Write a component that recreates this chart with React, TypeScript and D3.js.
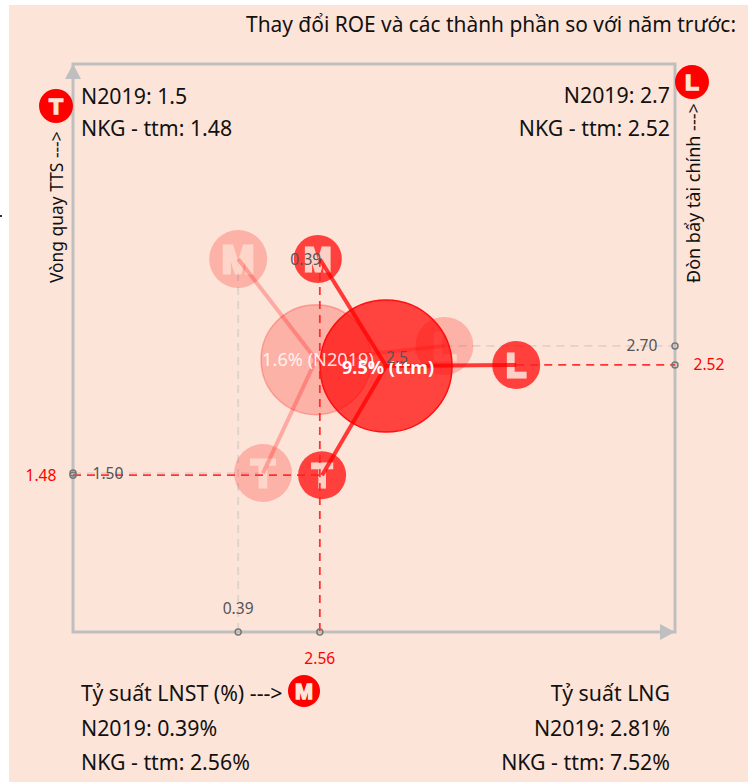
import React from "react";
import * as d3 from "d3";

const FONT = "'Noto Sans', sans-serif";
const BG = "#FDE4D8";
const AXIS = "#BFBFBF";

const marginValue = { prior: 0.39, current: 2.56 };
const turnoverValue = { prior: 1.5, current: 1.48 };
const leverageValue = { prior: 2.7, current: 2.52 };
const roeValue = { prior: 1.6, current: 9.5 };

// marker placements in scale units
const markerM = { priorY: 3.52, currentY: 3.52 };
const markerT = { priorX: 1.05, currentX: 2.62 };
const markerL = { priorX: 5.87, currentX: 7.78 };
const centerPrior = { x: 2.46, y: 2.57 };
const centerCurrent = { x: 4.32, y: 2.51 };

const title = "Thay đổi ROE và các thành phần so với năm trước:";

const x = d3.scaleLinear().domain([-4, 12]).range([73, 675]);
const y = d3.scaleLinear().domain([0, 5.36]).range([632, 64]);
const rBig = d3.scaleLinear().domain([1.6, 9.5]).range([55, 66]);

const line = d3.line<[number, number]>();

function Marker({ cx, cy, r, ch, faded }: { cx: number; cy: number; r: number; ch: string; faded?: boolean }) {
  return (
    <g>
      <circle cx={cx} cy={cy} r={r} fill="#FF0000" opacity={faded ? 0.22 : 0.72} />
      <text x={cx} y={cy} dy="0.36em" textAnchor="middle" fontFamily="'Liberation Sans', sans-serif" fontWeight={700}
        fontSize={r * 1.35} fill={BG} stroke={BG} strokeWidth={3} opacity={faded ? 0.7 : 0.88} filter="url(#soft)">{ch}</text>
    </g>
  );
}

function Badge({ cx, cy, r, ch }: { cx: number; cy: number; r: number; ch: string }) {
  return (
    <g>
      <circle cx={cx} cy={cy} r={r} fill="#FF0000" />
      <text x={cx} y={cy} dy="0.36em" textAnchor="middle" fontFamily="'Liberation Sans', sans-serif" fontWeight={700}
        fontSize={r * 1.35} fill={BG} stroke={BG} strokeWidth={1.5}>{ch}</text>
    </g>
  );
}

function Label({ tx, ty, s, anchor = "start" }: { tx: number; ty: number; s: string; anchor?: string }) {
  return <text x={tx} y={ty} fontFamily={FONT} fontSize={21.3} fill="#111" textAnchor={anchor}>{s}</text>;
}

function Small({ tx, ty, s, red }: { tx: number; ty: number; s: string; red?: boolean }) {
  return <text x={tx} y={ty} dy="0.35em" textAnchor="middle" fontFamily={FONT} fontSize={15.6}
    fill={red ? "#FF0000" : "#555"}>{s}</text>;
}

function Guide({ p, red }: { p: [number, number][]; red?: boolean }) {
  return <path d={line(p) ?? ""} fill="none" stroke={red ? "#FF2020" : "#BFBFBF"} strokeOpacity={red ? 0.9 : 0.5}
    strokeWidth={1.8} strokeDasharray="8 6" />;
}

function End({ cx, cy }: { cx: number; cy: number }) {
  return <circle cx={cx} cy={cy} r={3} fill="none" stroke="#777" strokeWidth={1.5} />;
}

export default function App() {
  const xL = x.range()[0], xR = x.range()[1], yB = y.range()[0], yT = y.range()[1];
  const pM: [number, number] = [x(marginValue.prior), y(markerM.priorY)];
  const cM: [number, number] = [x(marginValue.current), y(markerM.currentY)];
  const pT: [number, number] = [x(markerT.priorX), y(turnoverValue.prior)];
  const cT: [number, number] = [x(markerT.currentX), y(turnoverValue.current)];
  const pL: [number, number] = [x(markerL.priorX), y(leverageValue.prior)];
  const cL: [number, number] = [x(markerL.currentX), y(leverageValue.current)];
  const pC: [number, number] = [x(centerPrior.x), y(centerPrior.y)];
  const cC: [number, number] = [x(centerCurrent.x), y(centerCurrent.y)];
  return (
    <svg width={748} height={782} style={{ position: "absolute", left: 0, top: 0 }}>
      <defs>
        <filter id="soft" x="-20%" y="-20%" width="140%" height="140%"><feGaussianBlur stdDeviation="0.7" /></filter>
      </defs>
      <rect x={9} y={5} width={739} height={777} fill={BG} />
      <rect x={0} y={215} width={2} height={2} fill="#333" />

      <text x={736} y={32} textAnchor="end" fontFamily={FONT} fontSize={20.9} fill="#111">{title}</text>

      {/* frame */}
      <path d={`M${xL},${yB}V${yT}H${xR}V${yB}Z`} fill="none" stroke={AXIS} strokeWidth={3} />
      <path d={`M${xL},${yT}l-8,15h16Z`} fill={AXIS} />
      <path d={`M${xR},${yB}l-15,-8v16Z`} fill={AXIS} />

      {/* guides prior */}
      <Guide p={[pM, [pM[0], yB]]} />
      <Guide p={[pL, [xR, pL[1]]]} />
      <Guide p={[[xL, pT[1]], pT]} />

      {/* prior marks */}
      <Marker cx={pM[0]} cy={pM[1]} r={29} ch="M" faded />
      <Marker cx={pT[0]} cy={pT[1]} r={29} ch="T" faded />
      <Marker cx={pL[0]} cy={pL[1]} r={29} ch="L" faded />
      <path d={line([pM, pC]) ?? ""} stroke="#FF0000" strokeOpacity={0.25} strokeWidth={4} fill="none" />
      <path d={line([pT, pC]) ?? ""} stroke="#FF0000" strokeOpacity={0.25} strokeWidth={4} fill="none" />
      <path d={line([pL, pC]) ?? ""} stroke="#FF0000" strokeOpacity={0.25} strokeWidth={4} fill="none" />
      <circle cx={pC[0]} cy={pC[1]} r={rBig(roeValue.prior)} fill="#FF0000" fillOpacity={0.22} stroke="#FF0000" strokeOpacity={0.25} strokeWidth={1.5} />

      {/* current marks */}
      <Marker cx={cM[0] - 2} cy={cM[1]} r={24} ch="M" />
      <Marker cx={cT[0]} cy={cT[1]} r={24} ch="T" />
      <Marker cx={cL[0]} cy={cL[1]} r={24} ch="L" />
      <circle cx={cC[0]} cy={cC[1]} r={rBig(roeValue.current)} fill="#FF0000" fillOpacity={0.7} stroke="#FF1010" strokeWidth={1.5} />
      <Guide p={[cM, [cM[0], yB]]} red />
      <Guide p={[cL, [xR, cL[1]]]} red />
      <Guide p={[[xL, cT[1]], cT]} red />
      <path d={line([cM, cC]) ?? ""} stroke="#FF0000" strokeOpacity={0.75} strokeWidth={4} fill="none" />
      <path d={line([cT, cC]) ?? ""} stroke="#FF0000" strokeOpacity={0.75} strokeWidth={4} fill="none" />
      <path d={line([cL, cC]) ?? ""} stroke="#FF0000" strokeOpacity={0.75} strokeWidth={4} fill="none" />
      <text x={pC[0] + 2} y={pC[1]} dy="0.35em" textAnchor="middle" fontFamily={FONT} fontSize={18.2} fill="#fff" fillOpacity={0.85}>{`${roeValue.prior}% (N2019)`}</text>
      <text x={cC[0] + 2} y={cC[1] + 2} dy="0.35em" textAnchor="middle" fontFamily={FONT} fontSize={18} fontWeight={700} fill="#fff">{`${roeValue.current}% (ttm)`}</text>
      <Small tx={cC[0] + 11} ty={cC[1] - 8} s="2.5" />
      <Small tx={cM[0] - 14} ty={cM[1] + 1} s={marginValue.prior.toFixed(2)} />

      {/* axis ends */}
      <End cx={x(marginValue.prior)} cy={yB} />
      <End cx={x(marginValue.current)} cy={yB} />
      <End cx={xL} cy={y(turnoverValue.prior)} />
      <End cx={xL} cy={y(turnoverValue.current)} />
      <End cx={xR} cy={y(leverageValue.prior)} />
      <End cx={xR} cy={y(leverageValue.current)} />

      <Small tx={x(marginValue.prior)} ty={yB - 23} s={marginValue.prior.toFixed(2)} />
      <Small tx={x(marginValue.current)} ty={yB + 27} s={marginValue.current.toFixed(2)} red />
      <Small tx={xL + 35} ty={y(turnoverValue.prior)} s={turnoverValue.prior.toFixed(2)} />
      <Small tx={xL - 32} ty={y(turnoverValue.current)} s={turnoverValue.current.toFixed(2)} red />
      <Small tx={xR - 33} ty={y(leverageValue.prior)} s={leverageValue.prior.toFixed(2)} />
      <Small tx={xR + 34} ty={y(leverageValue.current)} s={leverageValue.current.toFixed(2)} red />

      {/* corner text */}
      <Label tx={81} ty={104} s={`N2019: ${turnoverValue.prior}`} />
      <Label tx={81} ty={136} s={`NKG - ttm: ${turnoverValue.current}`} />
      <Label tx={670} ty={103} s={`N2019: ${leverageValue.prior}`} anchor="end" />
      <Label tx={670} ty={136} s={`NKG - ttm: ${leverageValue.current}`} anchor="end" />
      <Label tx={81} ty={701} s="Tỷ suất LNST (%) --->" />
      <Label tx={81} ty={736} s={`N2019: ${marginValue.prior}%`} />
      <Label tx={81} ty={770} s={`NKG - ttm: ${marginValue.current}%`} />
      <Label tx={670} ty={701} s="Tỷ suất LNG" anchor="end" />
      <Label tx={670} ty={736} s="N2019: 2.81%" anchor="end" />
      <Label tx={670} ty={770} s="NKG - ttm: 7.52%" anchor="end" />

      <text transform="translate(63,283) rotate(-90)" fontFamily={FONT} fontSize={17.4} fill="#111">Vòng quay TTS ---&gt;</text>
      <text transform="translate(700,283) rotate(-90)" fontFamily={FONT} fontSize={18} fill="#111">Đòn bẩy tài chính ---&gt;</text>

      <Badge cx={56} cy={106} r={17} ch="T" />
      <Badge cx={692} cy={82} r={17} ch="L" />
      <Badge cx={304} cy={691} r={16} ch="M" />
    </svg>
  );
}
